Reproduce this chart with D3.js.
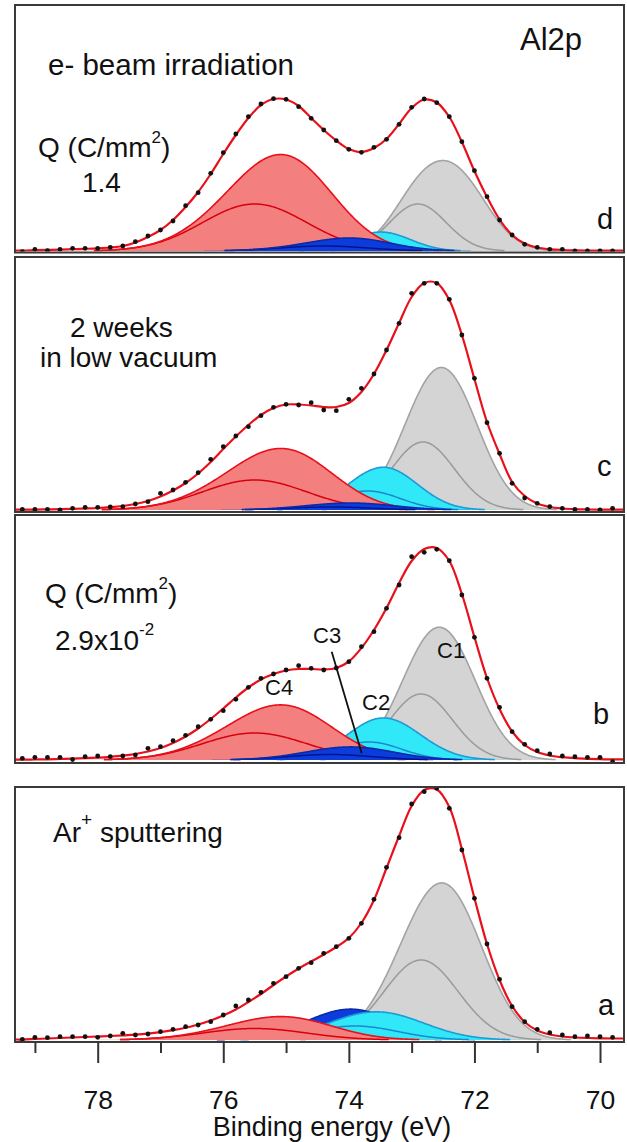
<!DOCTYPE html>
<html><head><meta charset="utf-8">
<script src="https://cdn.jsdelivr.net/npm/d3@7"></script>
<style>
body{margin:0;background:#fff;}
svg{display:block;font-family:"Liberation Sans",Arial,Helvetica,sans-serif;}
</style></head><body>
<svg id="chart" width="627" height="1142"></svg>
<script>
// ---------- DATA ----------
// binding energy grid of the measured points (eV)
const BE = [79.2,79.0,78.8,78.6,78.4,78.2,78.0,77.8,77.6,77.4,
            77.2,77.0,76.8,76.6,76.4,76.2,76.0,75.8,75.6,75.4,
            75.2,75.0,74.8,74.6,74.4,74.2,74.0,73.8,73.6,73.4,
            73.2,73.0,72.8,72.6,72.4,72.2,72.0,71.8,71.6,71.4,
            71.2,71.0,70.8,70.6,70.4,70.2,70.0,69.8];

// measured intensities (a.u.) – panel d (e- beam 1.4 C/mm2)
const dotsD = [-0.7,1.7,0.3,1.7,2.7,2.7,2.7,3.7,5,9.3,
               15,21,30,45.3,58.3,77.7,98.3,117,134.3,147,
               152.3,151.7,144.3,132.7,121,110.3,101.7,98.7,103.7,111.7,
               126.7,143.7,152,148.3,134.3,109.3,80.3,54.3,31,16,
               6.7,3.7,1.7,1.7,0,0,0,0];
const fitD  = [0.5,0.8,1.1,1.4,1.8,2.2,2.7,3.5,5,8.5,
               14,21,31,44,59,77,97,116,133,146,
               152,151.5,145,133,121,110.5,102,99,103,112,
               127,143,151.5,148.5,134,109,80,54,31.5,16,
               7.5,3.5,1.8,1.0,0.6,0.4,0.3,0.3];
// panel c (2 weeks in low vacuum)
const dotsC = [0.7,0.7,0.7,0,1.7,2.7,2.7,3,3.3,6,
               8.3,16.7,20,27.7,37.3,50.7,63.3,74,83.3,94.3,
               102.7,105.7,105,107.3,100,99.3,110.7,121.7,136,160,
               186.7,216.7,226.7,226.7,210.7,175,131.7,87.3,56.7,26.7,
               12,6.7,3.3,1.7,0.7,0.7,0,1.7];
const fitC  = [0.3,0.4,0.6,0.8,1.1,1.5,2.0,2.8,4,6,
               9,13.5,19.5,27,36.5,48,61,73.5,85,95,
               102,105.5,105.5,104.5,103,103,107,118,136,160,
               187,213,227,227,210,175,131,88,56,28,
               14,6.5,3,1.5,0.8,0.5,0.3,0.3];
// panel b (e- beam 2.9x10^-2 C/mm2)
const dotsB = [1.7,2.7,2.7,2.7,0.5,3.3,4,3.3,4,5,
               11.7,13.3,19.3,24.7,33.3,40.7,49.3,60.7,72.7,81.7,
               86,90,94.3,91.7,90,92,98.3,113.3,128.3,151.7,
               175,203.3,207.7,210.7,199.3,165,122.7,81.7,52.7,28.3,
               15.7,9.3,6,4,3.3,2.7,2.7,-1.7];
const fitB  = [0.3,0.5,0.7,1.0,1.3,1.8,2.4,3.2,4.3,6,
               8.5,12,17,23.5,31.5,41,51.5,62.5,72.5,80.5,
               86,89.5,91,91,90.5,92,98.5,112,130,152,
               177,199,211,212,199,166,123,82,51,28.5,
               15,8,4.5,2.8,1.8,1.2,0.8,0.6];
// panel a (Ar+ sputtering)
const dotsA = [0.7,2.7,2.3,3.3,3.3,3.3,2.7,4,6.7,5,
               6,8.3,10.7,13.3,15,18.3,25,34,40,47.7,
               56.7,63.3,71.7,77.3,86.7,93.3,101.7,116.7,140.7,172.7,
               202.3,236,248.3,251.7,231.7,190,141.7,96,60.7,33.3,
               18.3,10.7,7.3,5,3.3,4,3.3,2.7];
const fitA  = [0.5,1.0,1.5,2.0,2.5,3.0,3.5,4.0,4.6,5.3,
               6.3,7.8,9.8,12.3,15.5,19.5,24.5,30.5,38,46,
               55,63.5,71.5,78.5,85.5,93,102,117,140,172,
               204,234,250,250.5,233,191,142,96,60,34,
               18,9.5,5.5,3.5,2.5,2.0,1.7,1.5];

// fitted components: [centre eV, FWHM eV, height] of main line and of the
// second (inner-drawn) line of each doublet, per panel
const C1 = {a:[[72.30,1.30,96],[72.85,1.39,80]], b:[[72.35,1.18,84],[72.85,1.18,66]],
            c:[[72.33,1.18,92],[72.82,1.18,68]], d:[[72.25,1.15,67],[72.90,1.06,47]]};
const C2 = {a:[[73.30,1.60,17],[73.90,1.60,14]], b:[[73.28,1.30,27],[73.68,1.22,18]],
            c:[[73.30,1.18,27],[73.70,1.22,19]], d:[[73.35,1.00,13],[73.75,1.00,8]]};
const C3 = {a:[[73.80,1.50,20],[74.30,1.60,13]], b:[[73.80,1.50,8.5],[74.30,1.60,5.5]],
            c:[[73.80,1.50,4.5],[74.30,1.60,3]], d:[[73.85,1.41,9],[74.40,1.65,5]]};
const C4 = {a:[[74.85,1.70,14],[75.50,1.95,11.5]], b:[[74.85,1.70,33],[75.50,1.95,27]],
            c:[[74.85,1.70,37],[75.50,1.95,30]], d:[[74.85,1.70,58],[75.50,1.95,47]]};

const majorTicks = [78,76,74,72,70];
const minorTicks = [79,77,75,73,71];
const xTitle = "Binding energy (eV)";

// ---------- LAYOUT / STYLE ----------
const comps = {C1, C2, C3, C4};
const styles = {
  C1:{fill:"#d4d4d4", edge:"#a3a3a3", inner:"#9a9a9a"},
  C2:{fill:"#30e8f7", edge:"#1e9ad6", inner:"#1a88cc"},
  C3:{fill:"#0c3ddc", edge:"#0a2aa8", inner:"#00148a"},
  C4:{fill:"#f47f7f", edge:"#e8101a", inner:"#d8000c"}
};
const panels = [
  {key:"d", top:5,   bottom:252.5, base:251,  dots:dotsD, fit:fitD, order:["C1","C2","C4","C3"]},
  {key:"c", top:257, bottom:512,   base:510,  dots:dotsC, fit:fitC, order:["C1","C2","C4","C3"]},
  {key:"b", top:515, bottom:763,   base:760,  dots:dotsB, fit:fitB, order:["C1","C2","C4","C3"]},
  {key:"a", top:787, bottom:1042,  base:1040, dots:dotsA, fit:fitA, order:["C1","C3","C2","C4"]}
];

const svg = d3.select("#chart");
const x = d3.scaleLinear().domain([79.317, 69.618]).range([15, 624]);
const dom = x.domain();
const fineX = d3.range(0, 801).map(i => dom[0] + i * (dom[1] - dom[0]) / 800);
const peak = (e, p) => p[2] * Math.exp(-4 * Math.LN2 * (e - p[0]) ** 2 / (p[1] * p[1]));

panels.forEach(p => {
  const y = d3.scaleLinear().domain([0, p.base - p.top]).range([p.base, p.top]);
  const clipId = "clip-" + p.key;
  svg.append("clipPath").attr("id", clipId).append("rect")
    .attr("x", 16).attr("y", p.top + 1).attr("width", 607).attr("height", p.bottom - p.top - 2);
  const g = svg.append("g").attr("clip-path", `url(#${clipId})`);

  p.order.forEach(name => {
    const par = comps[name][p.key];
    const st = styles[name];
    const pts = fineX.map(e => {
      const m = peak(e, par[0]), n = peak(e, par[1]);
      return {e, n, t: m + n};
    });
    g.append("path").datum(pts)
      .attr("d", d3.area().x(d => x(d.e)).y0(p.base).y1(d => y(d.t)))
      .attr("fill", st.fill);
    g.append("path").datum(pts)
      .attr("d", d3.line().defined(d => d.n > 0.4).x(d => x(d.e)).y(d => y(d.n)))
      .attr("fill", "none").attr("stroke", st.inner).attr("stroke-width", 1.5);
    g.append("path").datum(pts)
      .attr("d", d3.line().defined(d => d.t > 0.4).x(d => x(d.e)).y(d => y(d.t)))
      .attr("fill", "none").attr("stroke", st.edge).attr("stroke-width", 1.6);
  });

  const fitPts = [[dom[0], p.fit[0]]].concat(BE.map((e, i) => [e, p.fit[i]]), [[dom[1], p.fit[p.fit.length - 1]]]);
  g.append("path").datum(fitPts)
    .attr("d", d3.line().curve(d3.curveCatmullRom.alpha(0.5)).x(d => x(d[0])).y(d => y(d[1])))
    .attr("fill", "none").attr("stroke", "#e8101a").attr("stroke-width", 2.2);

  g.selectAll("circle.pt").data(BE.map((e, i) => [e, p.dots[i]])).join("circle")
    .attr("class", "pt").attr("cx", d => x(d[0])).attr("cy", d => y(d[1])).attr("r", 2.4)
    .attr("fill", "#111");

  svg.append("rect").attr("x", 15).attr("y", p.top).attr("width", 609).attr("height", p.bottom - p.top)
    .attr("fill", "none").attr("stroke", "#3a3a3a").attr("stroke-width", 2);
});

// ---------- AXIS ----------
const axisY = 1042;
const major = d3.axisBottom(x).tickValues(majorTicks).tickSize(21).tickPadding(27).tickFormat(d3.format("d"));
const minor = d3.axisBottom(x).tickValues(minorTicks).tickSize(11).tickFormat("");
const gMaj = svg.append("g").attr("transform", `translate(0,${axisY})`).call(major);
const gMin = svg.append("g").attr("transform", `translate(0,${axisY})`).call(minor);
[gMaj, gMin].forEach(g => {
  g.select(".domain").remove();
  g.selectAll("line").attr("stroke", "#333").attr("stroke-width", 2);
});
gMaj.selectAll("text").attr("font-size", 26.5).attr("fill", "#111")
  .attr("font-family", '"Liberation Sans",Arial,sans-serif');
svg.append("text").attr("x", 332).attr("y", 1136).attr("text-anchor", "middle")
  .attr("font-size", 27).attr("fill", "#111").text(xTitle);

// ---------- TEXT ----------
function label(xp, yp, size, parts) {
  const t = svg.append("text").attr("x", xp).attr("y", yp).attr("font-size", size).attr("fill", "#111");
  parts.forEach(pt => {
    const s = t.append("tspan").text(pt.t);
    if (pt.dy) s.attr("dy", pt.dy);
    if (pt.fs) s.attr("font-size", pt.fs);
  });
  return t;
}
label(520, 50, 31, [{t:"Al2p"}]);
label(48, 75, 29.5, [{t:"e- beam irradiation"}]);
label(38, 157, 28, [{t:"Q (C/mm"}, {t:"2", dy:-14, fs:17}, {t:")", dy:14}]);
label(82, 192, 28, [{t:"1.4"}]);
label(597, 229, 29, [{t:"d"}]);

label(70, 337, 28, [{t:"2 weeks"}]);
label(40, 367, 28, [{t:"in low vacuum"}]);
label(597, 476, 29, [{t:"c"}]);

label(45, 603, 28, [{t:"Q (C/mm"}, {t:"2", dy:-14, fs:17}, {t:")", dy:14}]);
label(55, 650, 28, [{t:"2.9x10"}, {t:"-2", dy:-15, fs:17}]);
label(265, 695, 22, [{t:"C4"}]);
label(313, 643, 22, [{t:"C3"}]);
label(437, 658, 22, [{t:"C1"}]);
label(362, 710, 22, [{t:"C2"}]);
label(593, 724, 29, [{t:"b"}]);
svg.append("line").attr("x1", 331.7).attr("y1", 651.7).attr("x2", 361.7).attr("y2", 753.3)
  .attr("stroke", "#111").attr("stroke-width", 1.8);

label(53, 842, 28, [{t:"Ar"}, {t:"+", dy:-16, fs:19}, {t:" sputtering", dy:16}]);
label(598, 1015, 29, [{t:"a"}]);
</script>
</body></html>
